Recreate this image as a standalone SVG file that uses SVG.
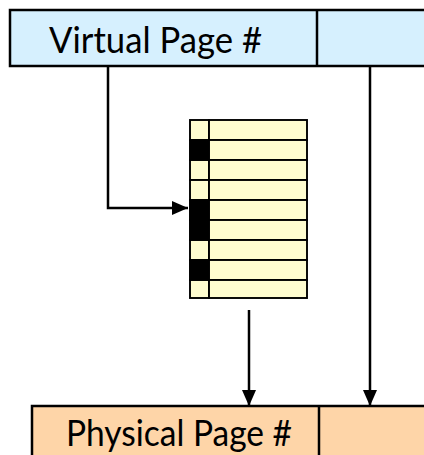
<svg xmlns="http://www.w3.org/2000/svg" width="424" height="455" viewBox="0 0 424 455">
  <style>
    .field { stroke: #000; stroke-width: 2.5; }
    .vpn { fill: #d6f0fe; }
    .ppn { fill: #fed5a8; }
    .label { font-family: Lato, "Open Sans", "Liberation Sans", sans-serif; font-size: 36px; fill: #000; }
    .cell { fill: #fffdd0; stroke: #000; stroke-width: 1.9; }
    .bit { fill: #000; }
    .wire { fill: none; stroke: #000; stroke-width: 2.5; }
  </style>
  <defs>
    <marker id="head" viewBox="0 0 16 14" refX="16" refY="7" markerWidth="16" markerHeight="14" markerUnits="userSpaceOnUse" orient="auto">
      <path d="M0,0 L16,7 L0,14 Z" fill="#000"/>
    </marker>
  </defs>

  <!-- virtual address -->
  <g id="virtual-address">
    <rect class="field vpn" x="10" y="10" width="430" height="56"/>
    <line class="field" x1="317" y1="10" x2="317" y2="66"/>
    <text class="label" x="49" y="53" textLength="213" lengthAdjust="spacingAndGlyphs">Virtual Page #</text>
  </g>

  <!-- page table -->
  <g id="page-table">
    <rect class="cell" x="190" y="120" width="19" height="20"/>
    <rect class="cell" x="209" y="120" width="98" height="20"/>
    <rect class="cell" x="190" y="140" width="19" height="20"/>
    <rect class="cell" x="209" y="140" width="98" height="20"/>
    <rect class="cell" x="190" y="160" width="19" height="20"/>
    <rect class="cell" x="209" y="160" width="98" height="20"/>
    <rect class="cell" x="190" y="180" width="19" height="20"/>
    <rect class="cell" x="209" y="180" width="98" height="20"/>
    <rect class="cell" x="190" y="200" width="19" height="20"/>
    <rect class="cell" x="209" y="200" width="98" height="20"/>
    <rect class="cell" x="190" y="220" width="19" height="20"/>
    <rect class="cell" x="209" y="220" width="98" height="20"/>
    <rect class="cell" x="190" y="240" width="19" height="20"/>
    <rect class="cell" x="209" y="240" width="98" height="20"/>
    <rect class="cell" x="190" y="260" width="19" height="20"/>
    <rect class="cell" x="209" y="260" width="98" height="20"/>
    <rect class="cell" x="190" y="280" width="19" height="18"/>
    <rect class="cell" x="209" y="280" width="98" height="18"/>
    <!-- valid bits that are set -->
    <rect class="bit" x="189.5" y="139.5" width="20" height="21"/>
    <rect class="bit" x="189.5" y="199.5" width="20" height="41"/>
    <rect class="bit" x="189.5" y="259.5" width="20" height="21"/>
  </g>

  <!-- physical address -->
  <g id="physical-address">
    <rect class="field ppn" x="32" y="406" width="410" height="60"/>
    <line class="field" x1="319" y1="406" x2="319" y2="466"/>
    <text class="label" x="66" y="446" textLength="226" lengthAdjust="spacingAndGlyphs">Physical Page #</text>
  </g>

  <!-- connectors -->
  <g id="connectors">
    <path class="wire" d="M108,67 V208 H188" marker-end="url(#head)"/>
    <path class="wire" d="M249,310 V406" marker-end="url(#head)"/>
    <path class="wire" d="M370,67 V406" marker-end="url(#head)"/>
  </g>
</svg>
